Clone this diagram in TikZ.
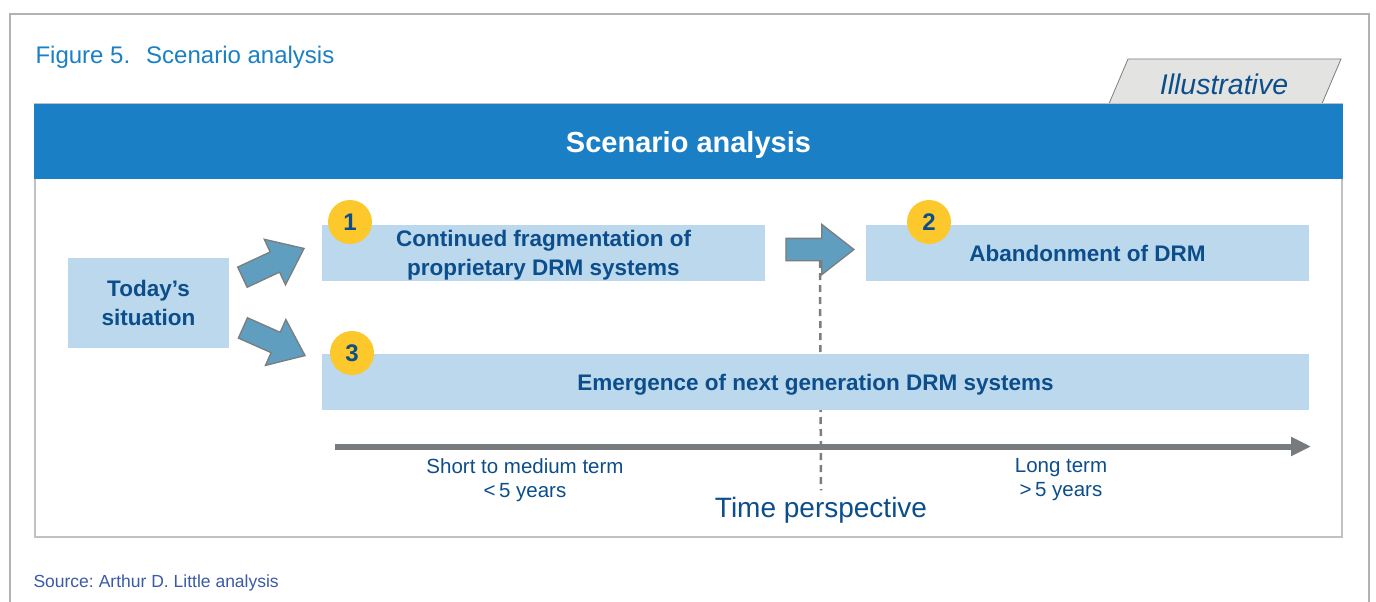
\documentclass[tikz,border=0pt]{standalone}
\usepackage{fontspec}
\setmainfont{Liberation Sans}
\usepackage{tikz}
\usetikzlibrary{shapes.arrows,arrows.meta}
\definecolor{hdrblue}{HTML}{1A7FC4}
\definecolor{boxblue}{HTML}{BCD8EC}
\definecolor{navy}{HTML}{0C4E8B}
\definecolor{badgeyellow}{HTML}{FCC82B}
\definecolor{arrowblue}{HTML}{5F9EBF}
\definecolor{arrowgray}{HTML}{7B7D7F}
\definecolor{linegray}{HTML}{777B7E}
\definecolor{framegray}{HTML}{B2B2B4}
\definecolor{tabgray}{HTML}{E3E4E2}
\definecolor{srcblue}{HTML}{3A5AA6}

\begin{document}
\begin{tikzpicture}[x=1pt,y=-1pt]
            \tikzstyle{scenario}=[rectangle,fill=boxblue,inner sep=0pt,text depth=0pt,text=navy,align=center,font=\fontsize{22.5}{28.5}\selectfont\bfseries]
            \tikzstyle{badge}=[circle,fill=badgeyellow,minimum size=44pt,inner sep=0pt,text=navy,font=\fontsize{24}{24}\selectfont\bfseries]
            \tikzstyle{fatarrow}=[single arrow,draw=arrowgray,line width=1.3pt,fill=arrowblue,minimum height=68pt,inner xsep=0pt,inner ysep=10.5pt,single arrow head extend=14pt,single arrow tip angle=76,anchor=tip]
            \tikzstyle{timelabel}=[text=navy,align=center,font=\fontsize{20.5}{24}\selectfont]
                \useasboundingbox (0,0) rectangle (1376,602);
                \draw[framegray,line width=2.5pt] (10,602) -- (10,14) -- (1369,14) -- (1369,602);

                \node[anchor=west,text=hdrblue,font=\fontsize{24}{24}\selectfont] (fig) at (32,57) {Figure 5.\hspace{16pt}Scenario analysis};
                \node[anchor=west,text=srcblue,font=\fontsize{17.5}{17.5}\selectfont] (src) at (30,583) {Source:\hspace{5pt}Arthur D. Little analysis};

                \draw[arrowgray,line width=0.8pt,fill=tabgray] (1108,106) -- (1128,59) -- (1341,59) -- (1321,106);
                \node[text=navy,font=\fontsize{28.5}{28.5}\selectfont\itshape] (tab) at (1224,84) {Illustrative};
                \draw[framegray!80,line width=2pt,fill=white] (35,104) rectangle (1342,537);
                \node[fill=hdrblue,minimum width=1309pt,minimum height=75pt,inner sep=0pt,text depth=0pt,text=white,font=\fontsize{29}{29}\selectfont\bfseries] (hdr) at (688.5,141.5) {Scenario analysis};

                \coordinate (d-top) at (820,261);
                \node[text=navy,font=\fontsize{28}{28}\selectfont] (time) at (821,510) {Time perspective};
                \draw[arrowgray,line width=2.5pt,dash pattern=on 7pt off 5pt] (d-top) -- ([yshift=3pt]time.north);

                \node[scenario,minimum width=161pt,minimum height=90pt] (today) at (148.5,303) {Today's\\situation};
                \node[scenario,minimum width=443pt,minimum height=56pt] (frag) at (543.5,253) {Continued fragmentation of\\proprietary DRM systems};
                \node[scenario,minimum width=443pt,minimum height=56pt] (aband) at (1087.5,253) {Abandonment of DRM};
                \node[scenario,minimum width=987pt,minimum height=56pt] (emerg) at (815.5,382) {Emergence of next generation DRM systems};

                \node[badge] (b-1) at (350,222) {1};
                \node[badge] (b-2) at (929,222) {2};
                \node[badge] (b-3) at (352,353) {3};

                \node[fatarrow,rotate=25] (up) at (305,248) {};
                \node[fatarrow,rotate=-24] (down) at (306,356) {};
                \node[fatarrow] (right) at (855,249.5) {};

                \coordinate (tl-start) at (335,446.5);
                \coordinate (tl-end) at (1311,446.5);
                \draw[linegray,line width=6pt,-{Triangle[length=20pt,width=18pt]}] (tl-start) -- (tl-end);

                \node[timelabel] (short) at (525,480) {Short to medium term\\<\,5 years};
                \node[timelabel] (long) at (1061,480) {Long term\\>\,5 years};
        \end{tikzpicture}
\end{document}
